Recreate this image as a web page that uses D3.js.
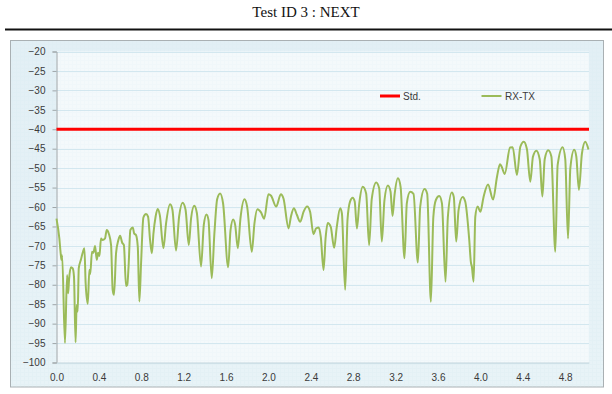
<!DOCTYPE html>
<html>
<head>
<meta charset="utf-8">
<script src="https://cdn.jsdelivr.net/npm/d3@7"></script>
<style>
  html, body { margin: 0; padding: 0; background: #ffffff; }
  svg { display: block; }
</style>
</head>
<body>
<svg id="chart" width="612" height="394"></svg>
<script>
// ---- data ----
const chartTitle = "Test ID 3 : NEXT";
const seriesNames = ["Std.", "RX-TX"];
const stdValue = -40;
const freq = [
  0.000,0.027,0.040,0.047,0.053,0.080,0.100,0.110,0.118,0.137,0.153,0.165,0.180,0.190,0.200,0.210,0.230,0.250,0.263,0.275,
  0.295,0.310,0.318,0.335,0.348,0.364,0.380,0.392,0.405,0.420,0.435,0.458,0.474,0.493,0.515,0.530,0.543,0.562,0.584,0.600,
  0.620,0.636,0.656,0.668,0.680,0.697,0.720,0.733,0.750,0.767,0.782,0.798,0.820,0.845,0.864,0.883,0.900,0.915,0.935,0.955,
  0.975,1.009,1.034,1.072,1.094,1.128,1.157,1.190,1.218,1.248,1.270,1.300,1.325,1.364,1.390,1.415,1.434,1.465,1.490,1.516,
  1.544,1.572,1.620,1.642,1.667,1.686,1.711,1.736,1.774,1.799,1.843,1.868,1.896,1.930,1.960,2.000,2.025,2.073,2.117,2.142,
  2.190,2.212,2.240,2.268,2.300,2.332,2.365,2.393,2.425,2.450,2.475,2.494,2.520,2.539,2.560,2.588,2.620,2.645,2.677,2.693,
  2.724,2.746,2.770,2.795,2.814,2.835,2.857,2.890,2.922,2.950,2.975,3.017,3.045,3.070,3.095,3.127,3.152,3.171,3.190,3.222,
  3.247,3.284,3.306,3.338,3.369,3.410,3.432,3.473,3.498,3.533,3.556,3.580,3.612,3.637,3.671,3.693,3.730,3.749,3.772,3.794,
  3.832,3.857,3.895,3.910,3.920,3.936,3.952,3.974,4.000,4.030,4.072,4.120,4.157,4.185,4.200,4.230,4.280,4.305,4.345,4.377,
  4.410,4.439,4.471,4.496,4.528,4.560,4.585,4.607,4.640,4.670,4.707,4.729,4.776,4.801,4.827,4.849,4.885,4.905,4.930,4.958,
  4.990,5.020
];
const rxtx = [
  -63.0,-68.1,-72.1,-73.6,-72.4,-95.0,-77.5,-82.2,-78.8,-75.5,-75.8,-77.9,-94.8,-85.2,-86.9,-75.8,-73.6,-71.5,-70.6,-79.6,
  -84.9,-76.2,-77.3,-71.5,-71.8,-70.0,-73.6,-71.8,-72.6,-68.1,-68.5,-68.1,-65.9,-66.8,-69.8,-81.3,-82.6,-71.9,-68.5,-67.4,
  -69.2,-69.8,-80.3,-80.0,-75.3,-65.9,-65.3,-66.8,-67.2,-70.2,-84.3,-74.5,-62.7,-61.8,-62.5,-68.5,-71.9,-66.8,-62.5,-60.5,
  -62.1,-70.6,-64.2,-59.3,-60.7,-71.2,-62.5,-58.9,-60.7,-69.8,-62.9,-59.7,-61.6,-75.3,-64.6,-61.9,-63.3,-78.3,-66.8,-58.0,
  -56.5,-59.1,-75.5,-66.0,-63.2,-64.6,-70.6,-62.9,-58.0,-59.9,-71.5,-64.2,-60.6,-61.4,-63.0,-56.7,-57.1,-59.9,-56.7,-57.8,
  -65.5,-62.5,-60.3,-62.0,-63.8,-61.2,-59.9,-61.2,-67.0,-65.5,-65.3,-67.7,-76.2,-68.1,-64.1,-65.1,-70.5,-65.1,-60.3,-61.6,
  -81.3,-63.3,-58.6,-57.6,-58.6,-65.5,-59.1,-54.8,-56.5,-69.8,-57.9,-53.7,-55.2,-68.9,-58.2,-54.5,-56.0,-62.3,-56.9,-52.6,
  -54.8,-73.2,-59.0,-56.1,-56.6,-74.3,-60.0,-55.4,-56.6,-84.4,-62.6,-58.2,-57.2,-59.0,-79.2,-62.6,-56.3,-57.4,-68.9,-60.8,
  -57.4,-58.6,-68.5,-74.1,-75.4,-79.2,-62.5,-59.9,-61.2,-57.4,-54.2,-58.1,-52.2,-49.0,-49.6,-51.5,-44.7,-44.6,-51.8,-44.5,
  -43.2,-45.1,-53.5,-47.1,-45.5,-47.7,-57.3,-47.7,-45.4,-47.0,-71.5,-49.2,-44.6,-47.7,-68.1,-50.0,-45.3,-47.0,-55.6,-46.3,
  -43.2,-45.2
];
const yTickValues = [-100,-95,-90,-85,-80,-75,-70,-65,-60,-55,-50,-45,-40,-35,-30,-25,-20];
const xTickValues = [0.0,0.4,0.8,1.2,1.6,2.0,2.4,2.8,3.2,3.6,4.0,4.4,4.8];
const xTickLabels = ["0.0","0.4","0.8","1.2","1.6","2.0","2.4","2.8","3.2","3.6","4.0","4.4","4.8"];

// ---- layout ----
const svg = d3.select("#chart");
const plot = {left: 56.5, right: 589, top: 51.5, bottom: 362.5};
const x = d3.scaleLinear().domain([0, 5.025]).range([plot.left, plot.right]);
const y = d3.scaleLinear().domain([-100, -20]).range([plot.bottom, plot.top]);

// title
svg.append("text")
  .attr("x", 306).attr("y", 17)
  .attr("text-anchor", "middle")
  .attr("font-family", "Liberation Serif, Times New Roman, serif")
  .attr("font-size", 15)
  .attr("fill", "#111")
  .text(chartTitle);

svg.append("line")
  .attr("x1", 5).attr("x2", 612).attr("y1", 29.5).attr("y2", 29.5)
  .attr("stroke", "#111").attr("stroke-width", 2);

// defs: background gradient and fine texture
const defs = svg.append("defs");
const grad = defs.append("linearGradient").attr("id", "bg").attr("x1", 0).attr("y1", 0).attr("x2", 0).attr("y2", 1);
grad.append("stop").attr("offset", "0%").attr("stop-color", "#e2eff5");
grad.append("stop").attr("offset", "100%").attr("stop-color", "#e8f3f7");
const pat = defs.append("pattern").attr("id", "tex").attr("width", 4).attr("height", 4).attr("patternUnits", "userSpaceOnUse");
pat.append("path").attr("d", "M0,0.5H4M0.5,0V4").attr("stroke", "#d9eaf1").attr("stroke-width", 1).attr("opacity", 0.3);

// chart box
svg.append("rect")
  .attr("x", 10.5).attr("y", 40.5).attr("width", 593).attr("height", 346.5)
  .attr("fill", "url(#bg)").attr("stroke", "#a9b0b3").attr("stroke-width", 1);
svg.append("rect")
  .attr("x", 11).attr("y", 41).attr("width", 592).attr("height", 345.5)
  .attr("fill", "url(#tex)");

// plot area
svg.append("rect")
  .attr("x", plot.left).attr("y", plot.top)
  .attr("width", plot.right - plot.left).attr("height", plot.bottom - plot.top)
  .attr("fill", "#f4f9fb");
svg.append("rect")
  .attr("x", plot.left).attr("y", plot.top)
  .attr("width", plot.right - plot.left).attr("height", plot.bottom - plot.top)
  .attr("fill", "url(#tex)").attr("opacity", 0.5);

// gridlines
svg.append("g").selectAll("line")
  .data(yTickValues)
  .join("line")
  .attr("x1", plot.left).attr("x2", plot.right)
  .attr("y1", d => Math.round(y(d)) + 0.5).attr("y2", d => Math.round(y(d)) + 0.5)
  .attr("stroke", "#d3e7ef").attr("stroke-width", 1);

// y axis
const yAxis = svg.append("g")
  .attr("transform", `translate(${plot.left},0)`)
  .call(d3.axisLeft(y).tickValues(yTickValues).tickSize(4).tickPadding(7).tickFormat(d3.format("d")));
yAxis.select(".domain").attr("stroke", "#9fa6a9");
yAxis.selectAll(".tick line").attr("stroke", "#9fa6a9");
yAxis.selectAll("text")
  .attr("font-family", "Liberation Sans, Arial, sans-serif")
  .attr("font-size", 10).attr("fill", "#3a3a3a");

// x axis
const xAxis = svg.append("g")
  .attr("transform", `translate(0,${plot.bottom})`)
  .call(d3.axisBottom(x).tickValues(xTickValues).tickSize(0).tickPadding(11)
        .tickFormat((d, i) => xTickLabels[i]));
xAxis.select(".domain").attr("stroke", "#c9d9df");
xAxis.selectAll("text")
  .attr("font-family", "Liberation Sans, Arial, sans-serif")
  .attr("font-size", 10).attr("fill", "#3a3a3a");

// Std line
svg.append("line")
  .attr("x1", x(0)).attr("x2", x(5.025))
  .attr("y1", y(stdValue)).attr("y2", y(stdValue))
  .attr("stroke", "#ff0000").attr("stroke-width", 3);

// RX-TX series
const pts = freq.map((f, i) => [f, rxtx[i]]);
const line = d3.line().x(d => x(d[0])).y(d => y(d[1])).curve(d3.curveMonotoneX);
svg.append("path")
  .datum(pts)
  .attr("d", line)
  .attr("fill", "none")
  .attr("stroke", "#9bbb59")
  .attr("stroke-width", 2)
  .attr("stroke-linejoin", "round");

// legend
const legend = [
  {name: seriesNames[0], color: "#ff0000", w: 3, x1: 380, tx: 403},
  {name: seriesNames[1], color: "#9bbb59", w: 2, x1: 481.5, tx: 505}
];
const lg = svg.append("g");
legend.forEach(l => {
  lg.append("line")
    .attr("x1", l.x1).attr("x2", l.x1 + 20).attr("y1", 96).attr("y2", 96)
    .attr("stroke", l.color).attr("stroke-width", l.w);
  lg.append("text")
    .attr("x", l.tx).attr("y", 99.5)
    .attr("font-family", "Liberation Sans, Arial, sans-serif")
    .attr("font-size", 10).attr("fill", "#3a3a3a")
    .text(l.name);
});
</script>
</body>
</html>
